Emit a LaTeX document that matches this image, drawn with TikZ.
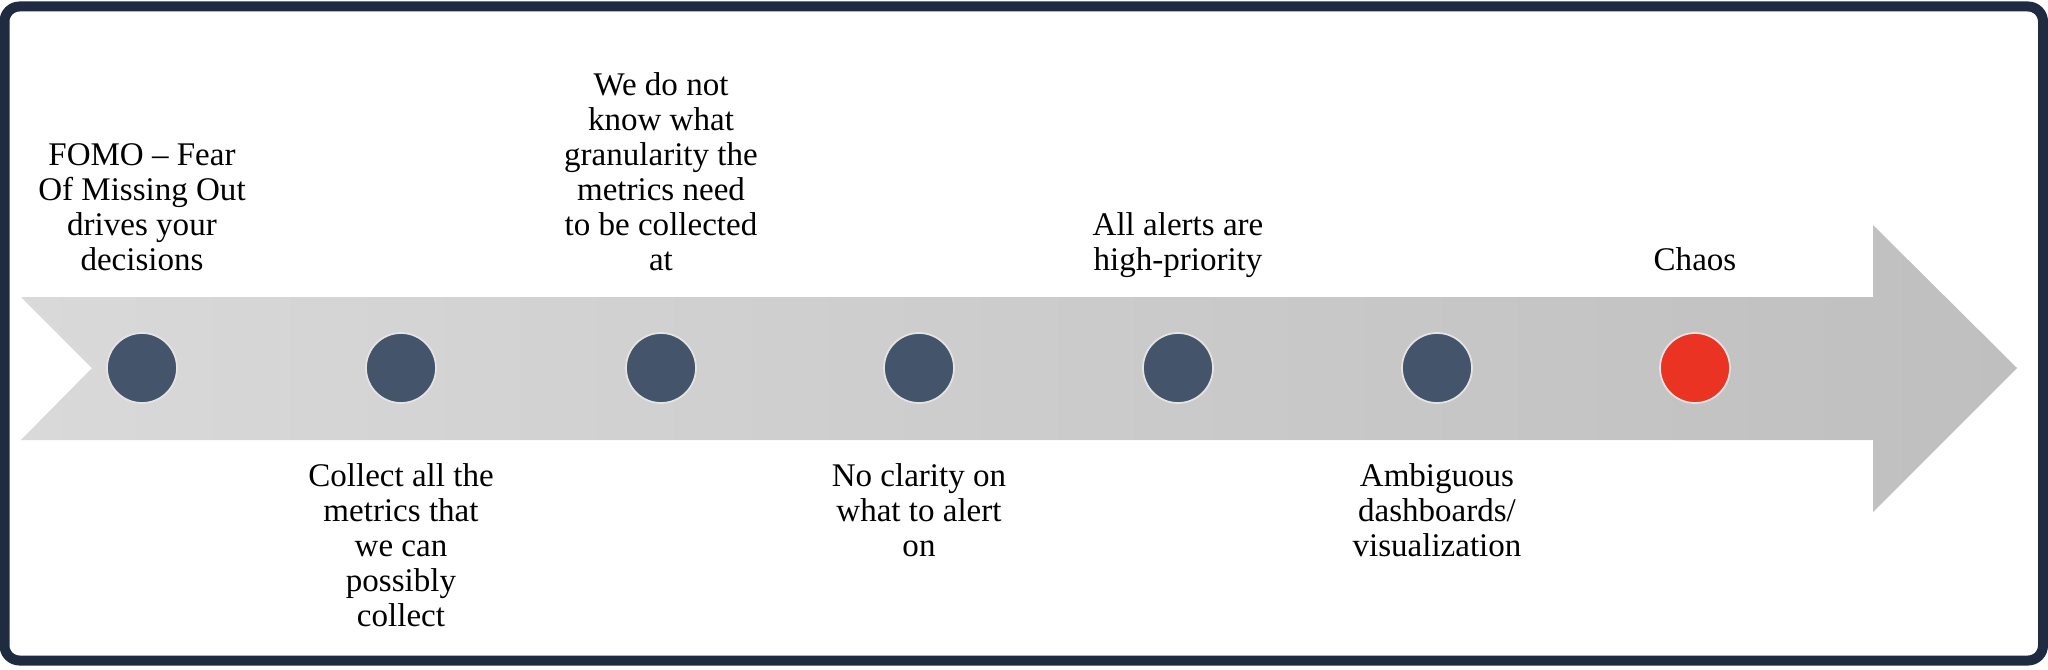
\documentclass[tikz,border=0pt]{standalone}
\usepackage{fontspec}
\setmainfont{Liberation Serif}
\usetikzlibrary{positioning}
\definecolor{tlFrame}{HTML}{1F2B40}
\definecolor{tlDot}{HTML}{44546A}
\definecolor{tlRed}{HTML}{EA3323}
\definecolor{tlLight}{HTML}{D9D9D9}
\definecolor{tlDark}{HTML}{BFBFBF}
\definecolor{tlRing}{HTML}{E4E4E4}

\begin{document}
\begin{tikzpicture}[
  dot/.style={circle,draw=tlRing,line width=0.5pt,fill=tlDot,
              minimum size=0.7cm,inner sep=0pt},
  reddot/.style={dot,fill=tlRed},
  uptxt/.style={anchor=south,align=center,inner sep=0pt,text depth=0pt,
                font=\fontsize{9.4}{9.96}\selectfont},
  dntxt/.style={anchor=north,align=center,inner sep=0pt,
                font=\fontsize{9.4}{9.96}\selectfont}]
  \useasboundingbox (0,0) rectangle (20.48,6.69);
  \draw[tlFrame,line width=0.1cm,rounded corners=0.15cm]
        (0.045,0.085) rectangle (20.43,6.625);
  % timeline arrow
  \shade[left color=tlLight,right color=tlDark]
        (0.21,3.72) -- (18.73,3.72) -- (18.73,4.44) -- (20.17,3.01)
        -- (18.73,1.57) -- (18.73,2.29) -- (0.21,2.29) -- (0.92,3.01) -- cycle;

  \node[dot]    (c1) at (1.42,3.01)  {};
  \node[dot]    (c2) at (4.01,3.01)  {};
  \node[dot]    (c3) at (6.61,3.01)  {};
  \node[dot]    (c4) at (9.19,3.01)  {};
  \node[dot]    (c5) at (11.78,3.01) {};
  \node[dot]    (c6) at (14.37,3.01) {};
  \node[reddot] (c7) at (16.95,3.01) {};

  \node[uptxt] (t1) at (1.42,3.98)  {FOMO – Fear\\Of Missing Out\\drives your\\decisions};
  \node[dntxt] (t2) at (4.01,2.06)  {Collect all the\\metrics that\\we can\\possibly\\collect};
  \node[uptxt] (t3) at (6.61,3.98)  {We do not\\know what\\granularity the\\metrics need\\to be collected\\at};
  \node[dntxt] (t4) at (9.19,2.06)  {No clarity on\\what to alert\\on};
  \node[uptxt] (t5) at (11.78,3.98) {All alerts are\\high-priority};
  \node[dntxt] (t6) at (14.37,2.06) {Ambiguous\\dashboards/\\visualization};
  \node[uptxt] (t7) at (16.95,3.98) {Chaos};
\end{tikzpicture}
\end{document}
